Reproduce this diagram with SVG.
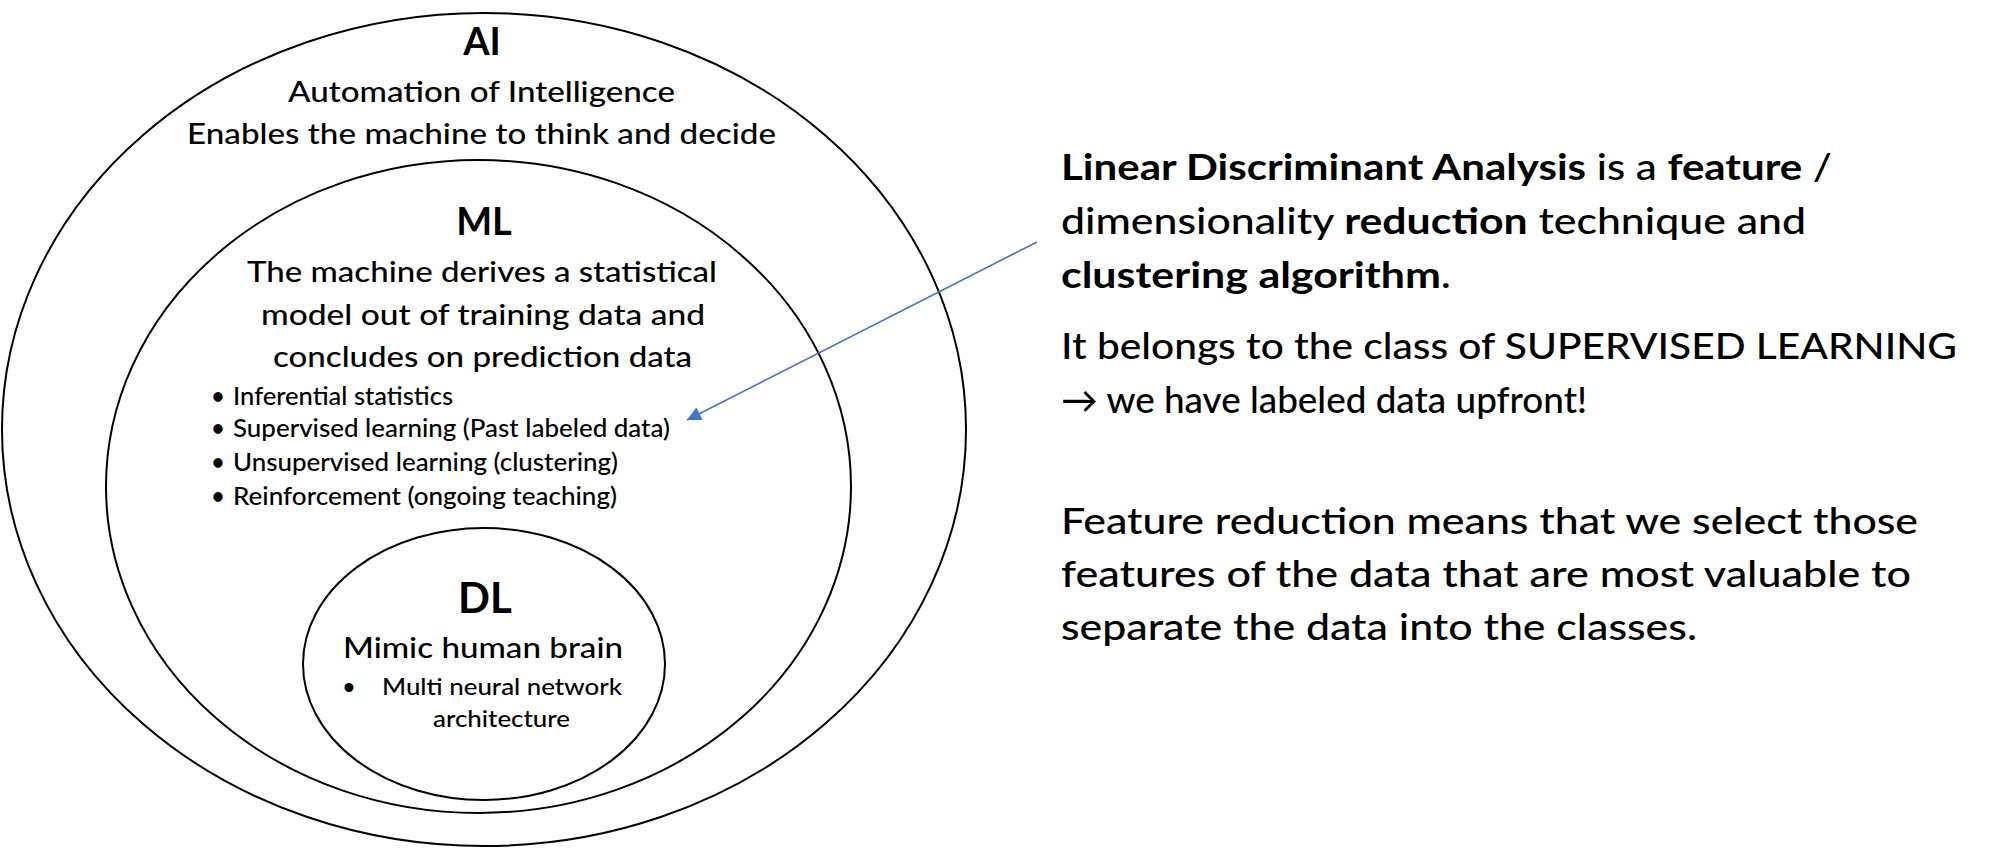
<svg xmlns="http://www.w3.org/2000/svg" width="2000" height="851" viewBox="0 0 2000 851">
<style>
.ring{fill:none;stroke:#000;stroke-width:2}
.t{font-family:Lato,"Open Sans","Liberation Sans",sans-serif;fill:#000;font-weight:500}
.h{font-weight:700;text-anchor:middle}
.b{font-weight:700}
.conn{fill:none;stroke:#4472C4;stroke-width:1.6}
</style>
<defs>
<marker id="ah" viewBox="0 0 10 10" refX="10" refY="5" markerWidth="17" markerHeight="14" markerUnits="userSpaceOnUse" orient="auto">
<path d="M0,0 L10,5 L0,10 Z" fill="#4472C4"/>
</marker>
</defs>
<rect width="2000" height="851" fill="#fff"/>

<g id="node-ai">
<ellipse class="ring" cx="484" cy="429.5" rx="482" ry="416.5"/>
<text class="t h" x="482" y="55" font-size="38">AI</text>
<text class="t" x="288" y="102" font-size="29" textLength="387" lengthAdjust="spacingAndGlyphs">Automation of Intelligence</text>
<text class="t" x="187" y="144" font-size="29" textLength="589" lengthAdjust="spacingAndGlyphs">Enables the machine to think and decide</text>
</g>

<g id="node-ml">
<ellipse class="ring" cx="478.5" cy="486.5" rx="372.5" ry="326.5"/>
<text class="t h" x="484" y="235" font-size="38">ML</text>
<text class="t" x="247" y="282" font-size="28" textLength="470" lengthAdjust="spacingAndGlyphs">The machine derives a statistical</text>
<text class="t" x="261" y="325" font-size="28" textLength="444" lengthAdjust="spacingAndGlyphs">model out of training data and</text>
<text class="t" x="273" y="367" font-size="28" textLength="419" lengthAdjust="spacingAndGlyphs">concludes on prediction data</text>
<g font-size="24">
<text class="t" x="218" y="405" text-anchor="middle">•</text>
<text class="t" x="233" y="405" textLength="220" lengthAdjust="spacingAndGlyphs">Inferential statistics</text>
<text class="t" x="218" y="437" text-anchor="middle">•</text>
<text class="t" x="233" y="437" textLength="437" lengthAdjust="spacingAndGlyphs">Supervised learning (Past labeled data)</text>
<text class="t" x="218" y="471" text-anchor="middle">•</text>
<text class="t" x="233" y="471" textLength="385" lengthAdjust="spacingAndGlyphs">Unsupervised learning (clustering)</text>
<text class="t" x="218" y="505" text-anchor="middle">•</text>
<text class="t" x="233" y="505" textLength="384" lengthAdjust="spacingAndGlyphs">Reinforcement (ongoing teaching)</text>
</g>
</g>

<g id="node-dl">
<ellipse class="ring" cx="484" cy="664" rx="181" ry="136"/>
<text class="t h" x="485" y="613" font-size="42">DL</text>
<text class="t" x="343" y="658" font-size="29" textLength="280" lengthAdjust="spacingAndGlyphs">Mimic human brain</text>
<text class="t" x="349" y="695" font-size="23" text-anchor="middle">•</text>
<text class="t" x="382" y="695" font-size="23" textLength="240" lengthAdjust="spacingAndGlyphs">Multi neural network</text>
<text class="t" x="433" y="727" font-size="23" textLength="137" lengthAdjust="spacingAndGlyphs">architecture</text>
</g>

<g id="node-lda" font-size="36">
<text class="t" x="1061" y="180" textLength="771" lengthAdjust="spacingAndGlyphs"><tspan class="b">Linear Discriminant Analysis</tspan> is a <tspan class="b">feature</tspan> /</text>
<text class="t" x="1061" y="234" textLength="745" lengthAdjust="spacingAndGlyphs">dimensionality <tspan class="b">reduction</tspan> technique and</text>
<text class="t" x="1061" y="288" textLength="390" lengthAdjust="spacingAndGlyphs"><tspan class="b">clustering algorithm</tspan>.</text>
<text class="t" x="1061" y="359" textLength="896" lengthAdjust="spacingAndGlyphs">It belongs to the class of SUPERVISED LEARNING</text>
<text class="t" x="1061" y="413" textLength="526" lengthAdjust="spacingAndGlyphs">→ we have labeled data upfront!</text>
<text class="t" x="1061" y="534" textLength="857" lengthAdjust="spacingAndGlyphs">Feature reduction means that we select those</text>
<text class="t" x="1061" y="587" textLength="850" lengthAdjust="spacingAndGlyphs">features of the data that are most valuable to</text>
<text class="t" x="1061" y="640" textLength="636" lengthAdjust="spacingAndGlyphs">separate the data into the classes.</text>
</g>

<g id="connectors">
<line class="conn" x1="1037" y1="242" x2="687" y2="420" marker-end="url(#ah)"/>
</g>
</svg>
